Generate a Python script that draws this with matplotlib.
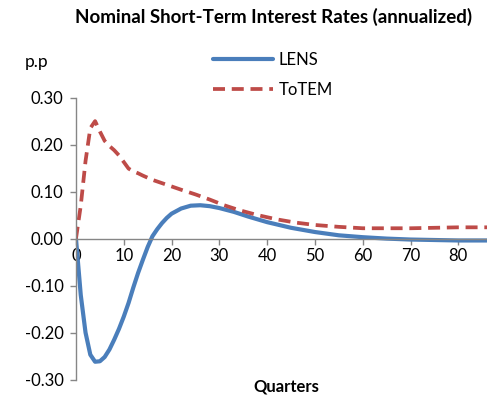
import matplotlib
matplotlib.use("Agg")
import matplotlib.pyplot as plt

# Data
lens_q = [0, 1, 2, 3, 4, 5, 6, 7, 8, 9, 10, 11, 12, 13, 14, 15, 16, 17, 18, 19, 20,
          22, 24, 26, 28, 30, 33, 36, 40, 45, 50, 55, 60, 65, 70, 75, 80, 86]
lens_v = [0.0, -0.12, -0.20, -0.247, -0.262, -0.261, -0.252, -0.236, -0.215, -0.192,
          -0.166, -0.137, -0.104, -0.073, -0.045, -0.018, 0.005, 0.020, 0.033, 0.044,
          0.053, 0.064, 0.070, 0.071, 0.069, 0.065, 0.057, 0.047, 0.035, 0.023, 0.014,
          0.007, 0.003, 0.0, -0.002, -0.003, -0.004, -0.004]

totem_q = [0, 1, 2, 3, 4, 5, 6, 7, 8, 9, 10, 11, 12, 13, 14, 16, 18, 20, 22, 25, 28,
           31, 34, 38, 42, 46, 50, 55, 60, 65, 70, 75, 80, 86]
totem_v = [0.0, 0.07, 0.165, 0.235, 0.250, 0.228, 0.208, 0.197, 0.188, 0.177, 0.163,
           0.149, 0.143, 0.139, 0.134, 0.125, 0.118, 0.111, 0.104, 0.094, 0.083, 0.071,
           0.061, 0.050, 0.041, 0.034, 0.029, 0.025, 0.022, 0.022, 0.022, 0.023, 0.024,
           0.024]

yticks = [-0.30, -0.20, -0.10, 0.00, 0.10, 0.20, 0.30]
xticks = [0, 10, 20, 30, 40, 50, 60, 70, 80]

plt.rcParams['font.family'] = ['Lato', 'DejaVu Sans']

fig = plt.figure(figsize=(4.87, 4.0), dpi=100)
ax = fig.add_axes([0.156, 0.051, 0.844, 0.705])

blue = '#4A7EBB'
red = '#BE4B48'
gray = '#868686'

ax.plot(lens_q, lens_v, color=blue, lw=3.0, label='LENS', solid_capstyle='round',
        solid_joinstyle='round')
ax.plot(totem_q, totem_v, color=red, lw=2.7, ls=(0, (3.2, 1.8)), label='ToTEM',
        dash_joinstyle='round')

ax.set_xlim(0, 86)
ax.set_ylim(-0.30, 0.30)
ax.set_yticks(yticks)
ax.set_yticklabels([f"{v:.2f}" for v in yticks])
ax.set_xticks(xticks)
ax.set_xticklabels([str(v) for v in xticks])

ax.spines['top'].set_visible(False)
ax.spines['right'].set_visible(False)
ax.spines['bottom'].set_position(('data', 0))
for s in ('left', 'bottom'):
    ax.spines[s].set_color(gray)
    ax.spines[s].set_linewidth(1.0)
ax.tick_params(axis='both', colors=gray, labelcolor='black', labelsize=12,
               direction='out', length=4, width=1.0)
ax.tick_params(axis='x', pad=3)
ax.tick_params(axis='y', pad=5)

fig.text(0.562, 0.957, 'Nominal Short-Term Interest Rates (annualized)',
         ha='center', va='center', fontsize=13.5, fontweight='bold')
fig.text(0.050, 0.845, 'p.p', ha='left', va='center', fontsize=12.5)
fig.text(0.587, 0.035, 'Quarters', ha='center', va='center', fontsize=12,
         fontweight='bold')

leg = ax.legend(loc='upper left', bbox_to_anchor=(0.318, 1.185), frameon=False,
                fontsize=12, handlelength=3.6, handletextpad=0.3,
                labelspacing=0.82, borderaxespad=0)

fig.savefig('out.png', dpi=100)
